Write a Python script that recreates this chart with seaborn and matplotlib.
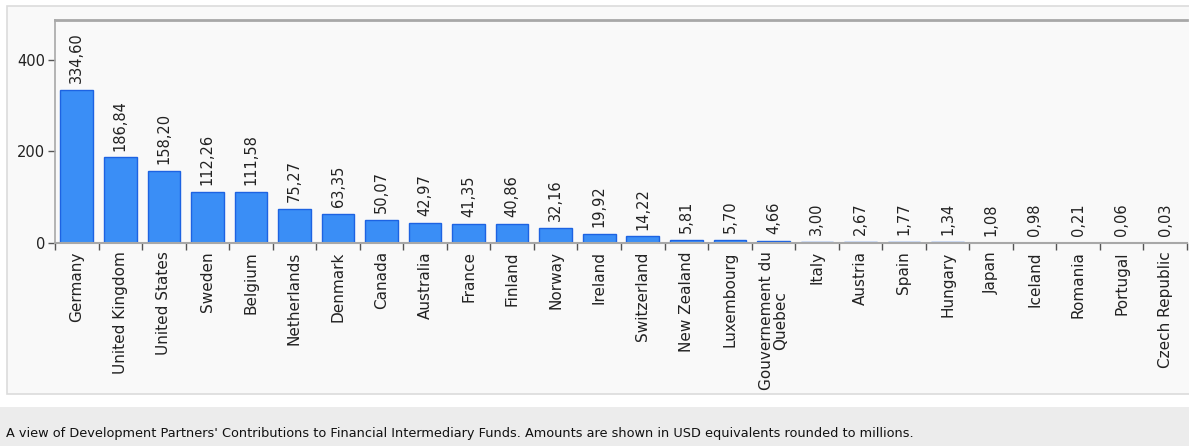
import matplotlib
matplotlib.use("Agg")
import matplotlib.pyplot as plt
import seaborn as sns
import pandas as pd
from matplotlib.patches import Rectangle

countries = ["Germany", "United Kingdom", "United States", "Sweden", "Belgium",
             "Netherlands", "Denmark", "Canada", "Australia", "France", "Finland",
             "Norway", "Ireland", "Switzerland", "New Zealand", "Luxembourg",
             "Gouvernement du\nQuebec", "Italy", "Austria", "Spain", "Hungary",
             "Japan", "Iceland", "Romania", "Portugal", "Czech Republic"]
values = [334.60, 186.84, 158.20, 112.26, 111.58, 75.27, 63.35, 50.07, 42.97,
          41.35, 40.86, 32.16, 19.92, 14.22, 5.81, 5.70, 4.66, 3.00, 2.67, 1.77,
          1.34, 1.08, 0.98, 0.21, 0.06, 0.03]
y_ticks = [0, 200, 400]
caption = ("A view of Development Partners' Contributions to Financial Intermediary "
           "Funds. Amounts are shown in USD equivalents rounded to millions.")

df = pd.DataFrame({"country": countries, "value": values})

sns.set_theme(style="white")
plt.rcParams["font.family"] = ["DejaVu Sans"]

W, H = 1189, 446
fig = plt.figure(figsize=(W / 100, H / 100), dpi=100)
fig.patch.set_facecolor("white")

# panel backgrounds
fig.patches.append(Rectangle((7 / W, 1 - 394 / H), 1, (394 - 6) / H,
                             transform=fig.transFigure, facecolor="#f9f9f9",
                             edgecolor="#dcdcdc", linewidth=1.2, zorder=-5))
fig.patches.append(Rectangle((0, 0), 1, (H - 407) / H, transform=fig.transFigure,
                             facecolor="#ececec", edgecolor="none", zorder=-5))

ax = fig.add_axes([55 / W, 1 - 243 / H, (1187 - 55) / W, (243 - 20) / H])
ax.set_facecolor("#f9f9f9")

sns.barplot(data=df, x="country", y="value", ax=ax, color="#3a8ef6",
            saturation=1, width=0.75, edgecolor="#1d63e2", linewidth=1.0)

ax.set_ylim(0, 487)
ax.set_xlim(-0.5, len(countries) - 0.5)
ax.set_yticks(y_ticks)
ax.set_yticklabels([str(v) for v in y_ticks], fontsize=10.5, color="#222222")
ax.set_xlabel("")
ax.set_ylabel("")

# x ticks at category boundaries, labels centered
ax.set_xticks([i + 0.5 for i in range(-1, len(countries))], minor=False)
ax.set_xticklabels([])
ax.set_xticks(range(len(countries)), minor=True)
ax.set_xticklabels(countries, minor=True, rotation=90, fontsize=11,
                   color="#222222", va="top", ha="center", linespacing=0.95)
ax.tick_params(axis="x", which="major", length=5, width=1, color="#555555",
               direction="out", bottom=True)
ax.tick_params(axis="x", which="minor", length=0, pad=6)
ax.tick_params(axis="y", length=5, width=1, color="#555555", direction="out",
               left=True, pad=2)

for sp in ["left", "bottom", "top"]:
    ax.spines[sp].set_visible(True)
    ax.spines[sp].set_color("#a8a8a8")
ax.spines["top"].set_linewidth(2)
ax.spines["left"].set_linewidth(1.2)
ax.spines["bottom"].set_linewidth(1.5)
ax.spines["right"].set_visible(False)

for i, v in enumerate(values):
    label = f"{v:.2f}".replace(".", ",")
    ax.annotate(label, (i, v), xytext=(0, 5), textcoords="offset points",
                rotation=90, ha="center", va="bottom", fontsize=10.5,
                color="#222222")

fig.text(6 / W, 1 - 433 / H, caption, fontsize=9.3, color="#111111",
         ha="left", va="center")

fig.savefig("out.png", dpi=100)
